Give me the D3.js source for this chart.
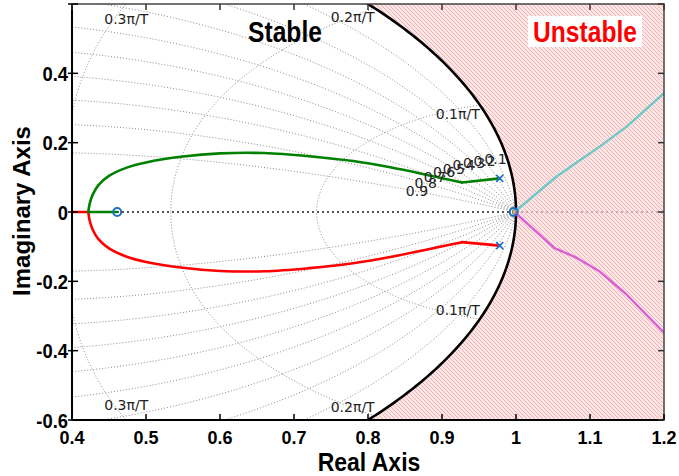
<!DOCTYPE html>
<html>
<head>
<meta charset="utf-8">
<script src="https://cdn.jsdelivr.net/npm/d3@7"></script>
<style>
  html, body { margin: 0; padding: 0; background: #fff; }
  svg { display: block; }
</style>
</head>
<body>
<svg id="chart" width="679" height="476"></svg>
<script>
// ---- data ----
const xTicks = [0.4, 0.5, 0.6, 0.7, 0.8, 0.9, 1.0, 1.1, 1.2];
const xTickLabels = ["0.4", "0.5", "0.6", "0.7", "0.8", "0.9", "1", "1.1", "1.2"];
const yTicks = [-0.6, -0.4, -0.2, 0, 0.2, 0.4, 0.6];
const yTickLabels = ["-0.6", "-0.4", "-0.2", "0", "0.2", "0.4", ""];

// z-plane grid: damping ratios and natural frequencies (in units of pi/T)
const zetaValues = [0.1, 0.2, 0.3, 0.4, 0.5, 0.6, 0.7, 0.8, 0.9];
const zetaLabels = ["0.1", "0.2", "0.3", "0.4", "0.5", "0.6", "0.7", "0.8", "0.9"];
const wnValues = [0.1, 0.2, 0.3, 0.4, 0.5, 0.6, 0.7, 0.8, 0.9, 1.0];
const wnLabels = ["0.1\u03c0/T", "0.2\u03c0/T", "0.3\u03c0/T"];
const wnLabelRe = [0.951, 0.809, 0.503];
const wnLabelIm = [0.309, 0.588, 0.583];

// root locus branches (real, imaginary); the first segment runs pole -> kink
const upperRe = [0.978, 0.927, 0.88, 0.83, 0.78, 0.72, 0.66, 0.60, 0.55, 0.50, 0.474, 0.45, 0.436, 0.428, 0.424, 0.422];
const upperIm = [0.097, 0.085, 0.107, 0.129, 0.147, 0.161, 0.170, 0.169, 0.160, 0.143, 0.128, 0.104, 0.078, 0.050, 0.025, 0.0];
const lowerRe = [0.978, 0.927, 0.88, 0.83, 0.78, 0.72, 0.66, 0.60, 0.55, 0.50, 0.474, 0.45, 0.436, 0.428, 0.424, 0.422];
const lowerIm = [-0.097, -0.087, -0.108, -0.130, -0.148, -0.162, -0.171, -0.170, -0.161, -0.144, -0.129, -0.105, -0.079, -0.051, -0.026, 0.0];
const greenAxisRe = [0.422, 0.461];
const redAxisRe = [0.422, 0.4];
const cyanRe = [0.998, 1.054, 1.08, 1.114, 1.15, 1.2];
const cyanIm = [0.0, 0.101, 0.14, 0.19, 0.247, 0.343];
const magentaRe = [0.998, 1.052, 1.08, 1.112, 1.148, 1.2];
const magentaIm = [0.0, -0.104, -0.13, -0.17, -0.235, -0.348];

const polesRe = [0.978, 0.978];
const polesIm = [0.097, -0.097];
const zerosRe = [0.461, 0.997];
const zerosIm = [0, 0];

// ---- layout ----
const svg = d3.select("#chart");
const x = d3.scaleLinear().domain([0.4, 1.2]).range([72, 664]);
const y = d3.scaleLinear().domain([-0.6, 0.6]).range([420, 4]);
const [x0, x1] = x.range();
const [y1, y0] = y.range();

const defs = svg.append("defs");
defs.append("clipPath").attr("id", "plotClip")
  .append("rect").attr("x", x0).attr("y", y0).attr("width", x1 - x0).attr("height", y1 - y0);

const hatch = defs.append("pattern").attr("id", "hatch")
  .attr("patternUnits", "userSpaceOnUse").attr("width", 4).attr("height", 4);
hatch.append("rect").attr("width", 4).attr("height", 4).attr("fill", "#fde8e8");
hatch.append("path").attr("d", "M-1,-1 L5,5 M-1,3 L1,5 M3,-1 L5,1")
  .attr("stroke", "#f3a9a9").attr("stroke-width", 0.9);

svg.append("rect").attr("width", 679).attr("height", 476).attr("fill", "#fff");

const plot = svg.append("g").attr("clip-path", "url(#plotClip)");
const line = d3.line().x(d => x(d[0])).y(d => y(d[1]));
const smooth = d3.line().x(d => x(d[0])).y(d => y(d[1])).curve(d3.curveCatmullRom.alpha(0.5));

// unstable region: outside the unit circle
const yMax = y.domain()[1], xMax = x.domain()[1];
const thetaEdge = Math.asin(yMax);
const region = [[Math.cos(thetaEdge), yMax], [xMax, yMax], [xMax, -yMax], [Math.cos(thetaEdge), -yMax]];
d3.range(-thetaEdge, thetaEdge + 1e-9, thetaEdge / 100).forEach(t => region.push([Math.cos(t), Math.sin(t)]));
plot.append("path").attr("d", line(region) + "Z").attr("fill", "url(#hatch)");

// constant damping curves
const gridStyle = g => g.attr("fill", "none").attr("stroke", "#8a8a8a")
  .attr("stroke-width", 1).attr("stroke-dasharray", "1,2");
zetaValues.forEach(z => {
  const k = Math.sqrt(1 - z * z);
  [1, -1].forEach(sgn => {
    const pts = d3.range(0, Math.PI + 1e-9, Math.PI / 300).map(th => {
      const r = Math.exp(-z * th / k);
      return [r * Math.cos(th), sgn * r * Math.sin(th)];
    });
    plot.append("path").attr("d", line(pts)).call(gridStyle);
  });
});
// constant natural frequency curves
wnValues.forEach(wn => {
  const w = wn * Math.PI;
  [1, -1].forEach(sgn => {
    const pts = d3.range(0, 1 + 1e-9, 0.005).map(z => {
      const r = Math.exp(-z * w), th = w * Math.sqrt(1 - z * z);
      return [r * Math.cos(th), sgn * r * Math.sin(th)];
    });
    plot.append("path").attr("d", line(pts)).call(gridStyle);
  });
});

// zero-imaginary reference line
plot.append("line").attr("x1", x(0.4)).attr("x2", x(1.0)).attr("y1", y(0)).attr("y2", y(0))
  .attr("stroke", "#555").attr("stroke-width", 2).attr("stroke-dasharray", "2,3");
plot.append("line").attr("x1", x(1.0)).attr("x2", x(1.2)).attr("y1", y(0)).attr("y2", y(0))
  .attr("stroke", "#b79a9a").attr("stroke-width", 1.6).attr("stroke-dasharray", "2,3");

// unit circle
const circ = d3.range(-Math.PI, Math.PI + 1e-9, Math.PI / 400).map(t => [Math.cos(t), Math.sin(t)]);
plot.append("path").attr("d", line(circ)).attr("fill", "none").attr("stroke", "#000").attr("stroke-width", 2.6);

// root locus branches
const zip = (a, b) => a.map((v, i) => [v, b[i]]);
const branch = (gen, pts, color, w) => plot.append("path").attr("d", gen(pts)).attr("fill", "none")
  .attr("stroke", color).attr("stroke-width", w).attr("stroke-linejoin", "round").attr("stroke-linecap", "round");
branch(line, redAxisRe.map(v => [v, 0]), "#ff0000", 2.6);
const lowerPts = zip(lowerRe, lowerIm);
branch(line, lowerPts.slice(0, 2), "#ff0000", 2.6);
branch(smooth, lowerPts.slice(1), "#ff0000", 2.6);
branch(line, greenAxisRe.map(v => [v, 0]), "#008000", 2.6);
const upperPts = zip(upperRe, upperIm);
branch(line, upperPts.slice(0, 2), "#008000", 2.6);
branch(smooth, upperPts.slice(1), "#008000", 2.6);
branch(line, zip(cyanRe, cyanIm), "#6fc8c8", 2.4);
branch(line, zip(magentaRe, magentaIm), "#dc5fd6", 2.4);

// poles and zeros
polesRe.forEach((re, i) => {
  const px = x(re), py = y(polesIm[i]), s = 3.5;
  plot.append("path").attr("d", `M${px - s},${py - s}L${px + s},${py + s}M${px - s},${py + s}L${px + s},${py - s}`)
    .attr("stroke", "#1f6fc0").attr("stroke-width", 1.6);
});
zerosRe.forEach((re, i) => {
  plot.append("circle").attr("cx", x(re)).attr("cy", y(zerosIm[i])).attr("r", 4)
    .attr("fill", "none").attr("stroke", "#1f6fc0").attr("stroke-width", 2);
});
plot.append("circle").attr("cx", x(zerosRe[1])).attr("cy", y(0)).attr("r", 1.3).attr("fill", "#c8c820");

// damping labels along each curve at wT = 0.05*pi
zetaValues.forEach((z, i) => {
  const w = 0.05 * Math.PI, r = Math.exp(-z * w), th = w * Math.sqrt(1 - z * z);
  plot.append("text").attr("x", x(r * Math.cos(th))).attr("y", y(r * Math.sin(th)))
    .attr("dy", "0.36em").attr("text-anchor", "middle")
    .attr("font-family", "DejaVu Sans, sans-serif").attr("font-size", 14).attr("fill", "#222")
    .text(zetaLabels[i]);
});
// natural frequency labels (upper and lower half)
wnLabels.forEach((t, i) => {
  const px = x(wnLabelRe[i]);
  plot.append("text").attr("x", px).attr("y", y(wnLabelIm[i]) + 14)
    .attr("text-anchor", "end").attr("font-family", "DejaVu Sans, sans-serif")
    .attr("font-size", 14).attr("fill", "#222").text(t);
  plot.append("text").attr("x", px).attr("y", y(-wnLabelIm[i]) - 4)
    .attr("text-anchor", "end").attr("font-family", "DejaVu Sans, sans-serif")
    .attr("font-size", 14).attr("fill", "#222").text(t);
});

// frame and ticks
svg.append("rect").attr("x", x0).attr("y", y0).attr("width", x1 - x0).attr("height", y1 - y0)
  .attr("fill", "none").attr("stroke", "#444").attr("stroke-width", 1.5);
svg.append("line").attr("x1", x0).attr("x2", x0).attr("y1", y0).attr("y2", y1).attr("stroke", "#000").attr("stroke-width", 2);
svg.append("line").attr("x1", x0).attr("x2", x1).attr("y1", y1).attr("y2", y1).attr("stroke", "#000").attr("stroke-width", 2);

const tickFont = "'Liberation Sans', Arial, sans-serif";
xTicks.forEach((v, i) => {
  const px = x(v);
  svg.append("line").attr("x1", px).attr("x2", px).attr("y1", y1).attr("y2", y1 - 6).attr("stroke", "#000").attr("stroke-width", 1.5);
  svg.append("line").attr("x1", px).attr("x2", px).attr("y1", y0).attr("y2", y0 + 6).attr("stroke", "#333").attr("stroke-width", 1.5);
  svg.append("text").attr("x", px).attr("y", 444).attr("text-anchor", "middle")
    .attr("font-family", tickFont).attr("font-weight", "bold").attr("font-size", 18).text(xTickLabels[i]);
});
yTicks.forEach((v, i) => {
  const py = y(v);
  svg.append("line").attr("x1", x0 - 4).attr("x2", x0 + 6).attr("y1", py).attr("y2", py).attr("stroke", "#000").attr("stroke-width", 1.5);
  svg.append("line").attr("x1", x1).attr("x2", x1 - 6).attr("y1", py).attr("y2", py).attr("stroke", "#333").attr("stroke-width", 1.5);
  svg.append("text").attr("transform", `translate(68,${py + 7.5}) scale(0.92,1)`).attr("text-anchor", "end")
    .attr("font-family", tickFont).attr("font-weight", "bold").attr("font-size", 20).text(yTickLabels[i]);
});

// axis titles
svg.append("text").attr("transform", "translate(369,471) scale(0.92,1)").attr("text-anchor", "middle")
  .attr("font-family", tickFont).attr("font-weight", "bold").attr("font-size", 25).text("Real Axis");
svg.append("text").attr("transform", "translate(30,211) rotate(-90)").attr("text-anchor", "middle")
  .attr("font-family", tickFont).attr("font-weight", "bold").attr("font-size", 24).text("Imaginary Axis");

// region annotations
svg.append("text").attr("transform", "translate(285,42) scale(0.82,1)").attr("text-anchor", "middle")
  .attr("font-family", tickFont).attr("font-weight", "bold").attr("font-size", 30).attr("fill", "#000").text("Stable");
svg.append("rect").attr("x", 528).attr("y", 16).attr("width", 114).attr("height", 31).attr("fill", "#fff");
svg.append("text").attr("transform", "translate(585,42) scale(0.82,1)").attr("text-anchor", "middle")
  .attr("font-family", tickFont).attr("font-weight", "bold").attr("font-size", 30).attr("fill", "#ff0000").text("Unstable");
</script>
</body>
</html>
